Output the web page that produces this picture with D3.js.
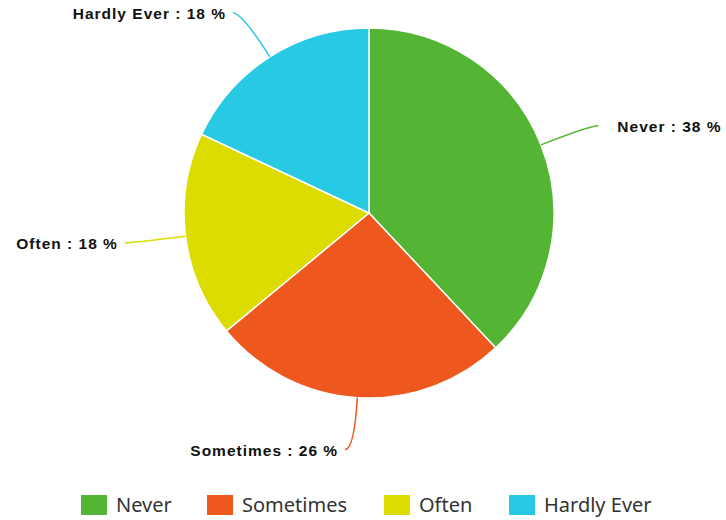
<!DOCTYPE html>
<html>
<head>
<meta charset="utf-8">
<script src="https://cdn.jsdelivr.net/npm/d3@7"></script>
<style>
  body { margin: 0; background: #fff; }
  .lbl { font-family: "Liberation Sans", Arial, sans-serif; font-weight: bold; font-size: 15.5px; letter-spacing: 1px; fill: #111; }
  .leg { font-family: "Noto Sans", "Open Sans", sans-serif; font-size: 20px; fill: #333; }
</style>
</head>
<body>
<div id="container"></div>
<script>
// set the dimensions of the canvas
var width = 726;
var height = 520;

// data
var categories = ["Never", "Sometimes", "Often", "Hardly Ever"];
var percents = [38, 26, 18, 18];
var sliceColors = ["#53b533", "#ee581f", "#dcdc00", "#27c9e3"];

var svg = d3.select("div#container").append("svg")
    .attr("width", width)
    .attr("height", height);

var cx = 369, cy = 213, radius = 185;

var colors = d3.scaleOrdinal().domain(categories).range(sliceColors);

var slices = categories.map(function (c, i) {
    return { name: c, value: percents[i] };
});

var pie = d3.pie()
    .sort(null)
    .value(function (d) { return d.value; });

var arc = d3.arc().innerRadius(0).outerRadius(radius);

var g = svg.append("g").attr("transform", "translate(" + cx + "," + cy + ")");

var arcs = pie(slices);

//----------------------------SLICES------------------------------//
g.selectAll("path.slice")
    .data(arcs)
    .enter().append("path")
    .attr("class", "slice")
    .attr("d", arc)
    .attr("fill", function (d) { return colors(d.data.name); })
    .attr("stroke", "#fff")
    .attr("stroke-width", 1.5);

//----------------------------LEADERS------------------------------//
function pt(a, r) {
    return [Math.sin(a) * r, -Math.cos(a) * r];
}

arcs.forEach(function (d) {
    var mid = (d.startAngle + d.endAngle) / 2;
    var p0 = pt(mid, radius);
    var p1 = pt(mid, radius + 52);
    var side = Math.sin(mid) >= 0 ? 1 : -1;
    var p2 = [p1[0] + side * 9, p1[1]];
    // right-hand labels sit a bit further from the line end
    var gap = side > 0 ? 19 : 7;

    g.append("path")
        .attr("d", "M" + p0 + "Q" + p1 + " " + p2)
        .attr("fill", "none")
        .attr("stroke", colors(d.data.name))
        .attr("stroke-width", 1.5);

    g.append("text")
        .attr("class", "lbl")
        .attr("x", p2[0] + side * gap)
        .attr("y", p2[1] + 6)
        .attr("text-anchor", side > 0 ? "start" : "end")
        .text(d.data.name + " : " + d.data.value + " %");
});

//----------------------------LEGEND------------------------------//
var legendX = [81, 207, 384, 509];

var leg = svg.selectAll("g.legend")
    .data(categories)
    .enter().append("g")
    .attr("class", "legend")
    .attr("transform", function (d, i) { return "translate(" + legendX[i] + ",495)"; });

leg.append("rect")
    .attr("width", 26)
    .attr("height", 20)
    .attr("fill", function (d) { return colors(d); });

leg.append("text")
    .attr("class", "leg")
    .attr("x", 35)
    .attr("y", 17)
    .text(function (d) { return d; });
</script>
</body>
</html>
